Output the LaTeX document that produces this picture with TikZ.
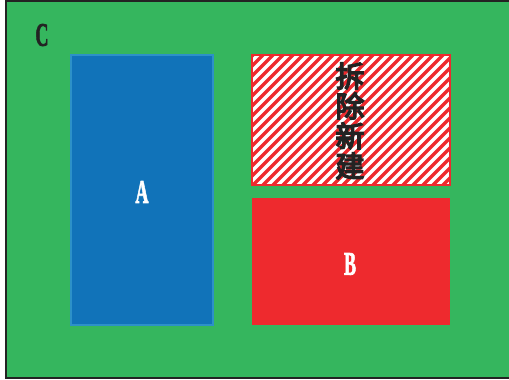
\documentclass[tikz,border=0pt]{standalone}
\usepackage{fontspec}
\usepackage{graphicx}
\setmainfont{Liberation Serif}
\newfontfamily\lblfont{Liberation Serif}[UprightFont=* Bold, FakeBold=2.5]
\newfontfamily\cjkfont{Noto Sans CJK SC}[FakeBold=5]
\definecolor{bggreen}{RGB}{53,182,94}
\definecolor{ablue}{RGB}{17,115,185}
\definecolor{ablueedge}{RGB}{45,145,200}
\definecolor{bred}{RGB}{238,42,46}
\definecolor{edgedark}{RGB}{35,35,35}
\newcommand{\condtxt}[1]{\scalebox{0.55}[1]{#1}}
\tikzset{
  lbl/.style={font=\lblfont\fontsize{33}{33}\selectfont, inner sep=0pt},
  area/.style={rectangle, inner sep=0pt, outer sep=0pt},
}
\begin{document}
\begin{tikzpicture}[x=1pt,y=-1pt]
\useasboundingbox (0,0) rectangle (509,380);
\fill[white] (0,0) rectangle (509,380);
\fill[bggreen] (6,1) rectangle (509,378);
\draw[edgedark, line width=2pt] (509,1) -- (6,1) -- (6,378) -- (509,378);
\node[lbl, text=edgedark] (C) at (42,35) {\condtxt{C}};
\node[area, fill=ablue, draw=ablueedge, line width=1.5pt, minimum width=142pt, minimum height=270pt] (A) at (142,190) {};
\node[lbl, text=white] (Alabel) at (142,192) {\condtxt{A}};
\node[area, fill=bred, minimum width=198pt, minimum height=127pt] (B) at (351,261.5) {};
\node[lbl, text=white] (Blabel) at (350,264) {\condtxt{B}};
\node[area, fill=white, minimum width=198pt, minimum height=130pt] (H) at (351,120) {};
\begin{scope}
  \clip (H.south west) rectangle (H.north east);
  \foreach \i in {-140,-130,...,210} {
    \draw[bred, line width=3.5pt] (252+\i,186) -- (252+\i+132,54);
  }
\end{scope}
\draw[bred, line width=2pt] (H.south west) rectangle (H.north east);
\node[inner sep=0pt, align=center, font=\cjkfont\fontsize{29}{30}\selectfont, text=edgedark] (T) at (350,121) {拆\\除\\新\\建};
\end{tikzpicture}
\end{document}
